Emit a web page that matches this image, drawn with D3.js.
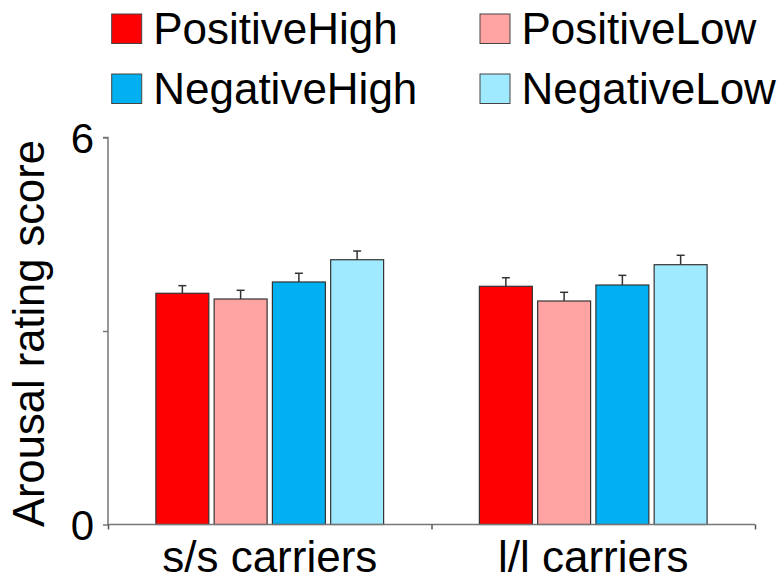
<!DOCTYPE html>
<html>
<head>
<meta charset="utf-8">
<script src="https://cdn.jsdelivr.net/npm/d3@7"></script>
<style>
  html, body { margin: 0; padding: 0; background: #fff; }
  svg { display: block; font-family: "Liberation Sans", Arial, Helvetica, sans-serif; }
</style>
</head>
<body>
<svg id="chart" width="777" height="587"></svg>
<script>
// ---- data ----
const groups = ["s/s carriers", "l/l carriers"];
const seriesNames = ["PositiveHigh", "PositiveLow", "NegativeHigh", "NegativeLow"];
const seriesColors = ["#ff0000", "#ffa3a3", "#00b0f0", "#a0eaff"];
const positiveHigh = [3.585, 3.693];
const positiveLow  = [3.496, 3.465];
const negativeHigh = [3.76, 3.713];
const negativeLow  = [4.105, 4.028];
const errPositiveHigh = [0.118, 0.133];
const errPositiveLow  = [0.135, 0.135];
const errNegativeHigh = [0.135, 0.15];
const errNegativeLow  = [0.135, 0.146];
const yTickValues = [0, 3, 6];
const yTickLabels = ["0", "", "6"];
const yLabel = "Arousal rating score";

const values = [positiveHigh, positiveLow, negativeHigh, negativeLow];
const errors = [errPositiveHigh, errPositiveLow, errNegativeHigh, errNegativeLow];

const rows = [];
groups.forEach((g, gi) => {
  seriesNames.forEach((s, si) => {
    rows.push({ group: g, series: s, value: values[si][gi], err: errors[si][gi], color: seriesColors[si] });
  });
});

// ---- layout ----
const svg = d3.select("#chart");
const mLeft = 108, mRight = 755, mTop = 137.5, mBottom = 524.5;

const x0 = d3.scaleBand().domain(groups).range([mLeft, mRight]).paddingInner(0).paddingOuter(0);
const x1 = d3.scaleBand().domain(seriesNames).range([0, x0.bandwidth()]).paddingInner(0.091).paddingOuter(0.822);
const y = d3.scaleLinear().domain([0, 6]).range([mBottom, mTop]);
const color = d3.scaleOrdinal().domain(seriesNames).range(seriesColors);

// bars
const bars = svg.append("g");
bars.selectAll("rect").data(rows).enter().append("rect")
  .attr("x", d => x0(d.group) + x1(d.series))
  .attr("y", d => y(d.value))
  .attr("width", x1.bandwidth())
  .attr("height", d => y(0) - y(d.value))
  .attr("fill", d => d.color)
  .attr("stroke", "#333")
  .attr("stroke-width", 1.2);

// error bars
const eb = svg.append("g").attr("stroke", "#333").attr("stroke-width", 1.5);
rows.forEach(d => {
  const cx = x0(d.group) + x1(d.series) + x1.bandwidth() / 2;
  eb.append("line").attr("x1", cx).attr("x2", cx).attr("y1", y(d.value)).attr("y2", y(d.value + d.err));
  eb.append("line").attr("x1", cx - 4).attr("x2", cx + 4).attr("y1", y(d.value + d.err)).attr("y2", y(d.value + d.err));
});

// y axis
const yAxis = d3.axisLeft(y).tickValues(yTickValues).tickSize(5).tickFormat((d, i) => yTickLabels[i]);
const gy = svg.append("g").attr("transform", `translate(${mLeft},0)`).call(yAxis);
gy.select(".domain").attr("stroke", "#777").attr("stroke-width", 1.5).attr("d", `M-5,${mTop}H0V${mBottom}`);
gy.selectAll(".tick line").attr("stroke", "#777").attr("stroke-width", 1.5);
gy.selectAll(".tick text").attr("font-size", 42).attr("fill", "#000").attr("x", -14).attr("dy", "0.36em")
  .attr("font-family", "Liberation Sans, Arial, sans-serif");

// x axis
const xAxis = d3.axisBottom(d3.scaleLinear().domain([0, 2]).range([mLeft, mRight])).tickValues([0, 1, 2]).tickSize(5).tickFormat("");
const gx = svg.append("g").attr("transform", `translate(0,${mBottom})`).call(xAxis);
gx.select(".domain").attr("stroke", "#777").attr("stroke-width", 1.5).attr("d", `M${mLeft},0H${mRight}`);
gx.selectAll(".tick line").attr("stroke", "#555").attr("stroke-width", 1.5);

// category labels
svg.append("g").selectAll("text").data(groups).enter().append("text")
  .attr("x", d => x0(d) + x0.bandwidth() / 2)
  .attr("y", 572)
  .attr("text-anchor", "middle")
  .attr("font-size", 44)
  .attr("fill", "#000")
  .text(d => d);

// y label
svg.append("text")
  .attr("transform", "translate(43.5,333.5) rotate(-90)")
  .attr("text-anchor", "middle")
  .attr("font-size", 43.5)
  .attr("fill", "#000")
  .text(yLabel);

// legend
const legendPos = [[111.7, 14], [480, 14], [111.7, 74], [480, 74]];
const lg = svg.append("g");
seriesNames.forEach((s, i) => {
  const [lx, ly] = legendPos[i];
  lg.append("rect").attr("x", lx).attr("y", ly).attr("width", 30).attr("height", 29.5)
    .attr("fill", color(s)).attr("stroke", "#444").attr("stroke-width", 1);
  lg.append("text").attr("x", lx + 41.5).attr("y", ly + 30).attr("font-size", 44).attr("fill", "#000").text(s);
});
</script>
</body>
</html>
